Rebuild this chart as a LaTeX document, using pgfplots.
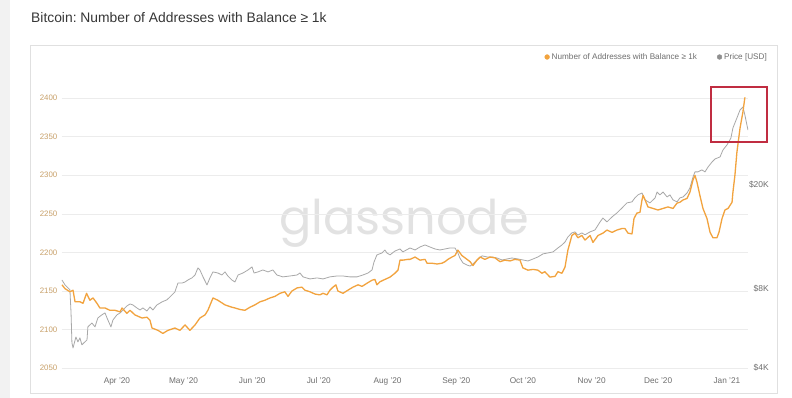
\documentclass[border=0pt]{standalone}
\usepackage{fontspec}
\setmainfont{Liberation Sans}
\newfontfamily\wmfont{Poppins}
\usepackage{pgfplots}
\usepackage{pgfplotstable}
\pgfplotsset{compat=1.18}
\frenchspacing
\definecolor{btcorange}{RGB}{242,163,62}
\definecolor{pricegray}{RGB}{168,168,168}
\definecolor{gridgray}{RGB}{236,236,236}
\definecolor{lefttick}{RGB}{200,160,105}
\definecolor{boxred}{RGB}{192,45,65}
\definecolor{wmgray}{RGB}{226,226,226}
\definecolor{titlegray}{RGB}{55,55,55}
\definecolor{labgray}{RGB}{110,110,110}

\pgfplotstableread{
d v
-24.8 2158
-23.4 2153
-21.2 2149
-19.8 2151
-18.9 2136
-16.7 2136
-15.3 2134
-13.7 2147
-12.2 2138
-10.8 2141
-9.0 2134
-7.7 2128
-5.4 2128
-3.2 2125
-0.9 2125
1.4 2123
2.3 2128
4.5 2121
5.9 2125
8.1 2119
11.3 2115
13.5 2116
14.9 2112
15.8 2102
18.5 2099
20.7 2095
23.0 2099
26.1 2102
28.4 2099
30.7 2106
32.9 2099
35.2 2106
37.4 2115
39.7 2119
41.0 2125
43.3 2141
45.5 2138
48.7 2132
51.8 2129
53.2 2128
55.5 2126
57.7 2125
60.0 2129
62.2 2132
64.5 2136
66.7 2138
69.0 2141
71.2 2143
73.5 2147
75.7 2149
77.1 2143
78.9 2150
81.2 2154
83.4 2155
84.8 2151
87.0 2149
89.3 2146
91.5 2145
92.9 2147
94.7 2145
96.0 2151
97.4 2155
98.7 2158
99.6 2150
101.9 2147
104.1 2151
106.4 2155
108.7 2158
110.5 2156
112.7 2160
115.0 2164
116.3 2165
117.2 2158
118.6 2162
120.8 2165
123.1 2168
125.3 2173
126.7 2177
127.6 2190
128.9 2190
131.2 2191
132.1 2191
134.4 2194
136.6 2190
138.9 2191
139.8 2186
142.0 2186
144.3 2185
146.5 2186
147.9 2188
149.2 2191
151.0 2194
152.4 2196
153.7 2203
155.5 2196
156.9 2193
159.2 2188
160.5 2183
162.3 2190
163.7 2194
165.9 2191
168.2 2194
170.4 2193
172.7 2188
174.9 2190
177.2 2189
179.4 2191
181.7 2190
183.0 2180
185.3 2177
187.6 2178
189.8 2177
191.6 2173
192.9 2175
195.2 2168
197.5 2169
198.8 2175
200.6 2173
202.0 2181
203.3 2203
205.1 2222
206.5 2225
207.8 2219
209.6 2222
211.0 2216
213.3 2222
214.6 2213
216.9 2222
219.1 2225
220.9 2229
223.2 2226
225.4 2229
227.7 2231
229.0 2231
230.4 2225
232.2 2224
233.1 2244
234.4 2251
235.8 2252
236.7 2268
237.2 2274
238.1 2268
239.4 2259
241.7 2257
243.9 2255
246.2 2257
248.4 2259
250.7 2257
252.5 2264
253.8 2265
255.2 2268
257.0 2270
258.3 2278
259.7 2294
260.6 2300
261.5 2291
262.8 2274
264.2 2257
266.0 2244
267.4 2226
268.7 2219
270.5 2219
271.4 2226
272.8 2244
274.1 2255
275.5 2257
277.3 2265
277.7 2278
278.6 2300
279.5 2330
280.9 2361
282.2 2382
283.1 2401
}\addrtable

\pgfplotstableread{
d p
-24.8 8670
-23.4 8300
-21.2 7950
-20.7 6490
-20.3 4990
-19.8 4770
-18.5 5250
-17.6 5030
-16.7 5210
-15.8 4900
-13.5 5120
-13.1 5740
-11.3 5940
-9.9 5740
-8.6 6210
-6.8 6380
-5.4 6490
-4.1 6100
-2.7 5740
-1.8 6100
0.0 6380
1.4 6490
2.7 6660
4.5 6900
5.9 7020
7.2 6960
9.0 6780
10.4 6660
11.7 6780
13.5 6600
14.9 6840
16.2 6660
18.0 6960
20.3 7150
22.5 7280
23.9 7470
26.1 7800
27.5 8440
29.3 8440
30.7 8520
32.0 8670
33.8 8830
35.2 9060
36.5 9640
37.4 9470
38.8 8910
40.6 8300
41.9 8830
43.3 9310
45.5 9220
47.3 9060
48.7 9310
50.0 8980
51.8 8670
53.2 8520
54.6 9060
56.8 9220
59.1 9470
60.9 9730
61.8 9220
63.6 9310
65.8 9470
68.1 9310
70.3 9470
72.1 9060
74.8 8910
78.0 8980
81.2 9060
82.5 9220
83.9 8910
87.0 8750
90.2 8830
92.9 8750
96.0 8910
99.2 8980
101.9 8980
105.0 8910
108.2 8910
110.9 9060
113.2 9220
115.0 9470
115.9 10160
117.2 10810
119.5 11000
120.8 11290
121.7 11000
123.1 10810
125.3 11180
127.6 11390
128.9 11100
130.5 11290
132.1 11490
134.4 11290
136.6 11590
138.9 11800
141.1 11590
143.4 11390
145.6 11290
147.9 11390
150.1 11490
152.4 11490
153.7 11000
154.6 10520
156.0 10070
157.8 9890
159.2 9800
160.5 9980
162.3 10340
164.6 10720
166.8 10620
169.1 10620
171.3 10520
173.6 10340
175.8 10430
178.1 10520
180.8 10430
183.0 10340
185.3 10250
187.6 10430
189.8 10620
192.1 10910
194.3 11000
196.6 11100
198.8 11490
200.6 11800
202.0 12110
203.3 12660
205.1 13120
206.5 13240
207.8 12870
209.6 13120
211.0 12900
213.3 13240
215.5 13460
217.8 14450
219.1 14950
220.9 14450
223.2 15100
225.4 15640
227.7 16340
229.9 17080
232.2 17240
233.5 17850
234.9 18330
236.7 18640
238.1 17540
240.3 17080
242.6 17850
243.5 18800
244.8 18330
246.2 18800
248.0 18000
249.3 18330
250.7 17540
252.5 17240
253.8 17850
255.2 18000
257.0 18640
258.3 19480
259.7 21460
260.6 22440
261.9 22440
263.7 22840
265.1 22440
266.5 23440
268.3 24490
269.6 25140
271.9 25600
273.2 27210
275.0 28430
276.8 30230
277.7 33030
279.5 36060
280.9 38680
282.2 39740
283.1 37000
284.0 33920
284.5 32440
}\pricetable

\begin{document}
\begin{tikzpicture}
\path[use as bounding box] (0bp,0bp) rectangle (792bp,398bp);
\fill[white] (0bp,0bp) rectangle (792bp,398bp);
\fill[black!5] (0bp,0bp) rectangle (10bp,398bp);
\draw[black!12, line width=0.6bp] (30bp,5bp) rectangle (777bp,353bp);
\node[anchor=west, font=\fontsize{13.9}{16}\selectfont, text=titlegray, inner sep=0pt] at (31bp,380bp) {Bitcoin: Number of Addresses with Balance ≥ 1k};
\node[anchor=base, font=\wmfont\fontsize{48}{52}\selectfont, text=wmgray, inner sep=0pt] at (404bp,163bp) {glassnode};

% axis 1: grid, left ticks, x ticks, legend
\begin{axis}[
  at={(61.5bp,26bp)}, anchor=south west, scale only axis,
  width=686.5bp, height=297bp,
  xmin=-25, xmax=284.5, ymin=2045, ymax=2430,
  axis line style={draw=none}, major tick length=0pt,
  ytick={2050,2100,2150,2200,2250,2300,2350,2400},
  ymajorgrids, grid style={gridgray, line width=0.7bp},
  xtick={0,30,61,91,122,153,183,214,244,275},
  xticklabels={Apr '20,May '20,Jun '20,Jul '20,Aug '20,Sep '20,Oct '20,Nov '20,Dec '20,Jan '21},
  xticklabel style={anchor=north, inner sep=0pt, yshift=-5.5bp, font=\fontsize{8.3}{10}\selectfont, text=labgray},
  yticklabel style={anchor=east, inner sep=0pt, xshift=-4bp, font=\fontsize{7.9}{9}\selectfont, text=lefttick},
  /pgf/number format/assume math mode=true,
  /pgf/number format/1000 sep={},
  legend style={at={(1.0306,1.0606)}, anchor=east, draw=none, fill=none, inner sep=0pt,
    font=\fontsize{8.2}{10}\selectfont, text=labgray, legend columns=2,
    /tikz/every even column/.append style={column sep=18bp}},
  legend image code/.code={\fill[#1] (0bp,0bp) circle (2.4bp);},
]
\addlegendimage{btcorange}
\addlegendentry{Number of Addresses with Balance ≥ 1k}
\addlegendimage{pricegray!85!black}
\addlegendentry{Price [USD]}
\end{axis}

% axis 2: price, log scale on the right
\begin{axis}[
  at={(61.5bp,26bp)}, anchor=south west, scale only axis,
  width=686.5bp, height=297bp,
  xmin=-25, xmax=284.5, ymode=log, ymin=3860, ymax=52630,
  axis x line=none, axis y line*=right,
  axis line style={draw=none}, major tick length=0pt, minor tick length=0pt,
  ytick={4000,8000,20000}, yticklabels={\$4K,\$8K,\$20K},
  yticklabel style={anchor=east, inner sep=0pt, xshift=21bp, font=\fontsize{8.5}{10}\selectfont, text=labgray},
]
\addplot[pricegray, line width=0.8bp, line join=round] table[x=d, y=p] {\pricetable};
\end{axis}

% axis 3: addresses
\begin{axis}[
  at={(61.5bp,26bp)}, anchor=south west, scale only axis,
  width=686.5bp, height=297bp,
  xmin=-25, xmax=284.5, ymin=2045, ymax=2430,
  hide axis,
]
\addplot[btcorange, line width=1.3bp, line join=round] table[x=d, y=v] {\addrtable};
\end{axis}

\draw[boxred, line width=1.3bp] (711bp,256bp) rectangle (767bp,311bp);
\end{tikzpicture}
\end{document}
